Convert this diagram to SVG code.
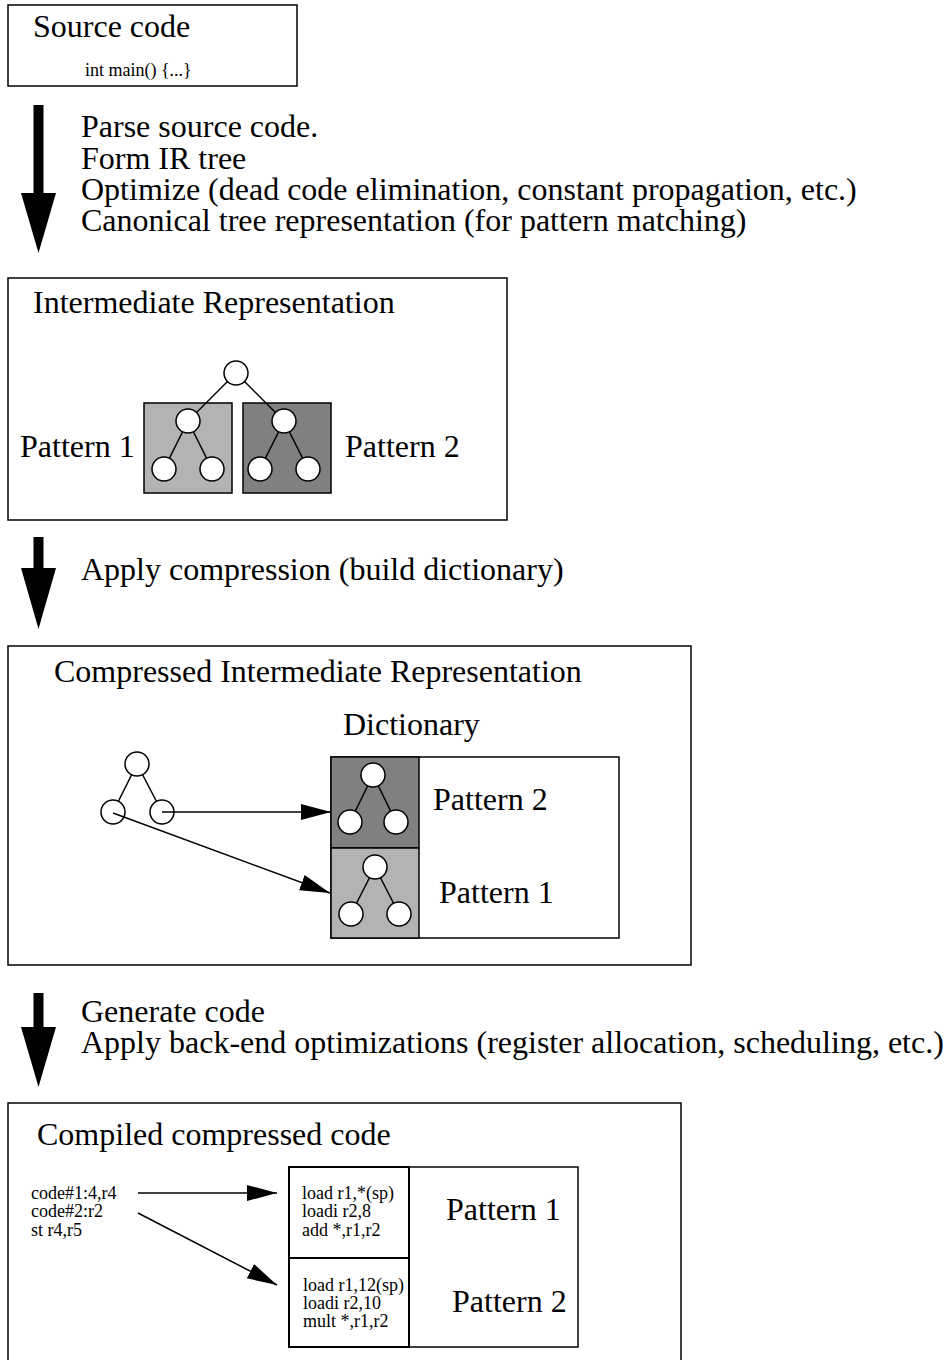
<svg xmlns="http://www.w3.org/2000/svg" width="948" height="1360" viewBox="0 0 948 1360">
<style>
.box{fill:#fff;stroke:#000;stroke-width:1.5}
.big{font-family:"Liberation Serif","Times New Roman",serif;font-size:32px;fill:#000}
.sm{font-family:"Liberation Serif","Times New Roman",serif;font-size:18px;fill:#000}
.nd{fill:#fff;stroke:#000;stroke-width:1.5}
.ed{stroke:#000;stroke-width:1.5;fill:none}
.light{fill:#b3b3b3;stroke:#000;stroke-width:1.5}
.dark{fill:#808080;stroke:#000;stroke-width:1.5}
.cell{fill:#fff;stroke:#000;stroke-width:2}
.conn{stroke:#000;stroke-width:1.5;fill:none;marker-end:url(#ah)}
</style>
<defs>
<marker id="ah" markerUnits="userSpaceOnUse" markerWidth="32" markerHeight="18" refX="30" refY="8" orient="auto">
<path d="M0,0 L30,8 L0,16 Z" fill="#000"/>
</marker>
</defs>
<rect width="948" height="1360" fill="#fff"/>

<g id="source-code">
<rect class="box" x="8" y="5" width="289" height="81"/>
<text class="big" x="33" y="37">Source code</text>
<text class="sm" x="85" y="76">int main() {...}</text>
</g>

<g id="step1">
<polygon points="33.5,105 43.5,105 43.5,193 56,193 38.5,253 21,193 33.5,193" fill="#000"/>
<text class="big" x="81" y="137"><tspan x="81" y="137">Parse source code.</tspan><tspan x="81" y="169">Form IR tree</tspan><tspan x="81" y="200">Optimize (dead code elimination, constant propagation, etc.)</tspan><tspan x="81" y="231">Canonical tree representation (for pattern matching)</tspan></text>
</g>

<g id="ir">
<rect class="box" x="8" y="278" width="499" height="242"/>
<text class="big" x="33" y="313">Intermediate Representation</text>
<rect class="light" x="144" y="403" width="88" height="90"/>
<rect class="dark" x="243" y="403" width="88" height="90"/>
<line class="ed" x1="236" y1="373" x2="188" y2="421"/>
<line class="ed" x1="236" y1="373" x2="284" y2="421"/>
<line class="ed" x1="188" y1="421" x2="164" y2="469"/>
<line class="ed" x1="188" y1="421" x2="212" y2="469"/>
<line class="ed" x1="284" y1="421" x2="260" y2="469"/>
<line class="ed" x1="284" y1="421" x2="308" y2="469"/>
<circle class="nd" cx="236" cy="373" r="12"/>
<circle class="nd" cx="188" cy="421" r="12"/>
<circle class="nd" cx="164" cy="469" r="12"/>
<circle class="nd" cx="212" cy="469" r="12"/>
<circle class="nd" cx="284" cy="421" r="12"/>
<circle class="nd" cx="260" cy="469" r="12"/>
<circle class="nd" cx="308" cy="469" r="12"/>
<text class="big" x="20" y="457">Pattern 1</text>
<text class="big" x="345" y="457">Pattern 2</text>
</g>

<g id="step2">
<polygon points="33.5,537 43.5,537 43.5,568 56,568 38.5,629 21,568 33.5,568" fill="#000"/>
<text class="big" x="81" y="580">Apply compression (build dictionary)</text>
</g>

<g id="compressed-ir">
<rect class="box" x="8" y="646" width="683" height="319"/>
<text class="big" x="54" y="682">Compressed Intermediate Representation</text>
<text class="big" x="343" y="735">Dictionary</text>
<rect class="box" x="331" y="757" width="288" height="181"/>
<rect class="dark" x="331" y="757" width="88" height="91"/>
<rect class="light" x="331" y="848" width="88" height="90"/>
<line class="ed" x1="373" y1="775" x2="350" y2="822"/>
<line class="ed" x1="373" y1="775" x2="396" y2="822"/>
<circle class="nd" cx="373" cy="775" r="12"/>
<circle class="nd" cx="350" cy="822" r="12"/>
<circle class="nd" cx="396" cy="822" r="12"/>
<line class="ed" x1="375" y1="867" x2="351" y2="914"/>
<line class="ed" x1="375" y1="867" x2="399" y2="914"/>
<circle class="nd" cx="375" cy="867" r="12"/>
<circle class="nd" cx="351" cy="914" r="12"/>
<circle class="nd" cx="399" cy="914" r="12"/>
<text class="big" x="433" y="810">Pattern 2</text>
<text class="big" x="439" y="903">Pattern 1</text>
<line class="ed" x1="137" y1="764" x2="113" y2="812"/>
<line class="ed" x1="137" y1="764" x2="162" y2="812"/>
<circle class="nd" cx="137" cy="764" r="12"/>
<circle class="nd" cx="113" cy="812" r="12"/>
<circle class="nd" cx="162" cy="812" r="12"/>
</g>

<g id="step3">
<polygon points="33.5,993 43.5,993 43.5,1027 56,1027 38.5,1087 21,1027 33.5,1027" fill="#000"/>
<text class="big" x="81" y="1022"><tspan x="81" y="1022">Generate code</tspan><tspan x="81" y="1053">Apply back-end optimizations (register allocation, scheduling, etc.)</tspan></text>
</g>

<g id="compiled-code">
<rect class="box" x="8" y="1103" width="673" height="270"/>
<text class="big" x="37" y="1145">Compiled compressed code</text>
<text class="sm" x="31" y="1199"><tspan x="31" y="1199">code#1:4,r4</tspan><tspan x="31" y="1217">code#2:r2</tspan><tspan x="31" y="1236">st r4,r5</tspan></text>
<rect class="box" x="289" y="1167" width="289" height="180"/>
<rect class="cell" x="289" y="1167" width="120" height="91"/>
<rect class="cell" x="289" y="1258" width="120" height="89"/>
<text class="sm" x="302" y="1199"><tspan x="302" y="1199">load r1,*(sp)</tspan><tspan x="302" y="1217">loadi r2,8</tspan><tspan x="302" y="1236">add *,r1,r2</tspan></text>
<text class="sm" x="303" y="1291"><tspan x="303" y="1291">load r1,12(sp)</tspan><tspan x="303" y="1309">loadi r2,10</tspan><tspan x="303" y="1327">mult *,r1,r2</tspan></text>
<text class="big" x="446" y="1220">Pattern 1</text>
<text class="big" x="452" y="1312">Pattern 2</text>
</g>

<g id="connectors">
<line class="conn" x1="162" y1="812" x2="331" y2="812"/>
<line class="conn" x1="113" y1="813" x2="330" y2="893"/>
<line class="conn" x1="138" y1="1193" x2="277" y2="1193"/>
<line class="conn" x1="138" y1="1213" x2="277" y2="1285"/>
</g>
</svg>
